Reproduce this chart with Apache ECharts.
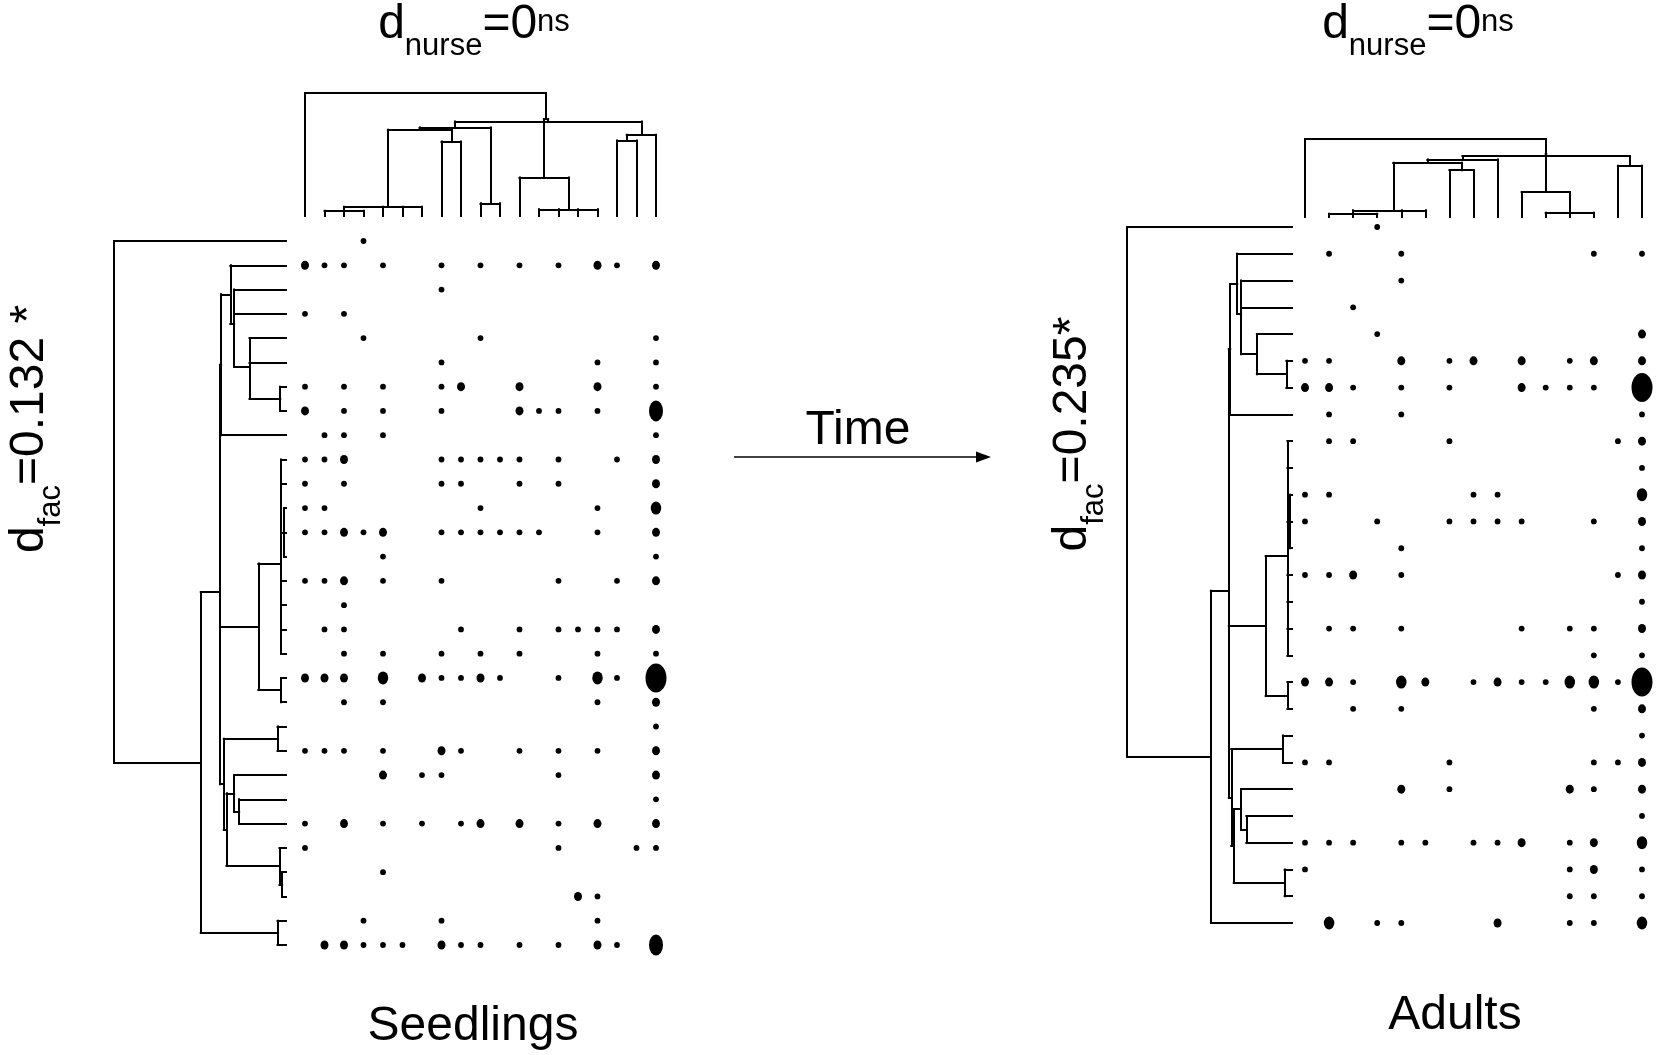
<!DOCTYPE html>
<html><head><meta charset="utf-8">
<script src="https://cdn.jsdelivr.net/npm/echarts@6/dist/echarts.min.js"></script>
<style>html,body{margin:0;padding:0;background:#fff}#c{width:1660px;height:1055px}</style>
</head><body><div id="c"></div>
<script>
// ---------------- DATA ----------------
// Dot matrices: one string per row, one character per column ('.' = absent, 1..5 = abundance class)
const seedlingRows = [
  "...1...............",
  "211.1..1.1.1.1.21.2",
  ".......1...........",
  "1.1................",
  "...1.....1........1",
  ".......1.......1..1",
  "1.1.1..12..2...2..1",
  "2.1.1..1...211.1..4",
  ".11.1.............1",
  "112....11111.1..1.2",
  "1.1....11..1.1....2",
  "11.......1.....1..3",
  "11212..111111..1..2",
  "....1.............1",
  "112.1..1.....1..1.2",
  "..1................",
  ".11.....1..1.1111.2",
  "..1.1..1.1.1...1..1",
  "222.3.21121..1.31.5",
  "..1.1..........1..2",
  "..................1",
  "111.1..21..1.1.1..2",
  "....2.11.....1....2",
  "..................1",
  "1.2.1.1.12.2.1.2..2",
  "1............1...11",
  "....1..............",
  "..............21...",
  "...1...1.......1...",
  ".22111.211.1.1.21.4"
];
const adultRows = [
  "...1...........",
  ".1..1.......1.1",
  "....1..........",
  "..1............",
  "...1..........2",
  "11..2.12.2.12.2",
  "221.1.1..2111.5",
  ".1..1.........1",
  ".11...1......12",
  "..............1",
  "11.....11.....3",
  "1..1..1111..1.2",
  "....1.........1",
  "112.1........12",
  "..............1",
  ".11.1....1.11.2",
  "............1.1",
  "221.32.12113315",
  "..1.1.......1.2",
  "..............1",
  "11....1.....112",
  "....2.1....21.2",
  "..............1",
  "111.11.112.12.3",
  "1..........12.1",
  "...........11.1",
  ".3.11...2..11.3"
];
// Dendrograms: [children, merge height]; 'rK' = leaf K, 'nK' = K-th merge
const seedlingColTree = [
  [['r1','r2','r3'], 16], [['n0','r4','r5','r6'], 28], [['r7','r8'], 223],
  [['n1','n2'], 258], [['r9','r10'], 38], [['n3','n4'], 265],
  [['r12','r13','r14','r15'], 20], [['r11','n6'], 115], [['r16','r17'], 226],
  [['n8','r18'], 243], [['n5','n9'], 283], [['n7','n10'], 290], [['r0','n11'], 368]
];
const adultColTree = [
  [['r1','r2','r3'], 10], [['n0','r4','r5'], 20], [['r6','r7'], 140],
  [['n1','n2'], 162], [['n3','r8'], 172], [['r13','r14'], 153],
  [['n4','n5'], 182], [['r10','r11','r12'], 13], [['r9','n7'], 75],
  [['n8','n6'], 190], [['r0','n9'], 233]
];
const seedlingRowTree = [
  [['r6','r7'], 15], [['r4','r5','n0'], 95], [['r2','r3','n1'], 135],
  [['r1','n2'], 145], [['n3','r8'], 169], [['r11','r12','r13'], 5],
  [['r9','r10','n5','r14','r15','r16','r17'], 13], [['r18','r19'], 13],
  [['n6','n7'], 72], [['r20','r21'], 22], [['r23','r24'], 122],
  [['r22','n10'], 135], [['r26','r27'], 10], [['r25','n12'], 17],
  [['n11','n13'], 155], [['n9','n14'], 162], [['n4','n8','n15'], 172],
  [['r28','r29'], 22], [['n16','n17'], 222], [['r0','n18'], 448]
];
const adultRowTree = [
  [['r5','r6'], 16], [['r4','n0'], 100], [['r2','r3','n1'], 145],
  [['r1','n2'], 156], [['n3','r7'], 176], [['r10','r11','r12'], 5],
  [['r8','r9','n5','r13','r14','r15','r16'], 13], [['r17','r18'], 13],
  [['n6','n7'], 75], [['r19','r20'], 26], [['r22','r23'], 130],
  [['r21','n10'], 145], [['r24','r25'], 21], [['n11','n12'], 166],
  [['n9','n13'], 173], [['n4','n8','n14'], 180], [['n15','r26'], 231],
  [['r0','n16'], 470]
];
const labels = {
  nurseLeft: '{b|d}{s|nurse}{b|=0}{p|ns}',
  nurseRight: '{b|d}{s|nurse}{b|=0}{p|ns}',
  facLeft: '{b|d}{s|fac}{b|=0.132 *}',
  facRight: '{b|d}{s|fac}{b|=0.235*}',
  time: '{b|Time}', seedlings: '{b|Seedlings}', adults: '{b|Adults}'
};

// ---------------- BUILD ----------------
const dotSize = [[0,0],[5.8,5.8],[8,9],[10.5,13],[14,21],[21,29]];
function matrixData(rows) {
  const out = [];
  rows.forEach((s, r) => { for (let c = 0; c < s.length; c++) if (s[c] !== '.') out.push([c, r, +s[c]]); });
  return out;
}
function treeMax(t) { return t[t.length - 1][1]; }
function dendroSegments(tree, rotate) {
  const pos = {}, ht = {}, segs = [];
  const get = id => id[0] === 'r' ? [+id.slice(1), 0] : [pos[id], ht[id]];
  const pt = (p, h) => rotate ? [h, p] : [p, h];
  tree.forEach(([kids, h], k) => {
    const ps = kids.map(get), xs = ps.map(q => q[0]);
    ps.forEach(([p, ch]) => segs.push({ coords: [pt(p, ch), pt(p, h)] }));
    segs.push({ coords: [pt(Math.min(...xs), h), pt(Math.max(...xs), h)] });
    pos['n' + k] = xs.reduce((a, b) => a + b, 0) / xs.length; ht['n' + k] = h;
  });
  return segs;
}
const nColL = seedlingRows[0].length, nRowL = seedlingRows.length;
const nColR = adultRows[0].length, nRowR = adultRows.length;

const grids = [
  { left: 305, top: 93, width: 351, height: 123 },   // 0 seedling column tree
  { left: 114, top: 241, width: 172, height: 704 },  // 1 seedling row tree
  { left: 305, top: 241, width: 351, height: 704 },  // 2 seedling matrix
  { left: 1305, top: 139, width: 337, height: 78 },  // 3 adult column tree
  { left: 1127, top: 227, width: 165, height: 696 }, // 4 adult row tree
  { left: 1305, top: 227, width: 337, height: 696 }  // 5 adult matrix
];
const ax = (g, min, max, inv) => ({ type: 'value', gridIndex: g, min, max, inverse: !!inv, show: false });
const xAxes = [
  ax(0, 0, nColL - 1), ax(1, 0, treeMax(seedlingRowTree), true), ax(2, 0, nColL - 1),
  ax(3, 0, nColR - 1), ax(4, 0, treeMax(adultRowTree), true), ax(5, 0, nColR - 1)
];
const yAxes = [
  ax(0, 0, treeMax(seedlingColTree)), ax(1, 0, nRowL - 1, true), ax(2, 0, nRowL - 1, true),
  ax(3, 0, treeMax(adultColTree)), ax(4, 0, nRowR - 1, true), ax(5, 0, nRowR - 1, true)
];
const lineStyle = { color: '#000', width: 2, opacity: 1, cap: 'square' };
const treeSeries = (i, tree, rot) => ({
  type: 'lines', coordinateSystem: 'cartesian2d', xAxisIndex: i, yAxisIndex: i,
  data: dendroSegments(tree, rot), lineStyle, silent: true, animation: false, clip: false
});
const dotSeries = (i, rows) => ({
  type: 'scatter', xAxisIndex: i, yAxisIndex: i, data: matrixData(rows),
  symbol: 'circle', symbolSize: v => dotSize[v[2]], itemStyle: { color: '#000', opacity: 1 },
  silent: true, animation: false, clip: false
});

const FONT = '"Liberation Sans", Arial, Helvetica, sans-serif';
const rich = {
  b: { fontSize: 48, fontFamily: FONT, lineHeight: 60, color: '#000' },
  s: { fontSize: 31, fontFamily: FONT, lineHeight: 60, padding: [42, 0, 0, 0], color: '#000' },
  p: { fontSize: 31, fontFamily: FONT, lineHeight: 60, padding: [0, 0, 6, 0], color: '#000' }
};
const txt = (text, x, y, rot) => ({
  type: 'text', x, y, rotation: rot || 0, silent: true,
  style: { text, rich, fill: '#000', font: '48px ' + FONT,
    align: 'center', verticalAlign: 'middle', textAlign: 'center', textVerticalAlign: 'middle' }
});

const chart = echarts.init(document.getElementById('c'), null, { renderer: 'canvas' });
chart.setOption({
  backgroundColor: '#fff',
  animation: false,
  grid: grids,
  xAxis: xAxes,
  yAxis: yAxes,
  series: [
    treeSeries(0, seedlingColTree, false),
    treeSeries(1, seedlingRowTree, true),
    dotSeries(2, seedlingRows),
    treeSeries(3, adultColTree, false),
    treeSeries(4, adultRowTree, true),
    dotSeries(5, adultRows)
  ],
  graphic: [
    txt(labels.nurseLeft, 474, 25),
    txt(labels.nurseRight, 1418, 25),
    txt(labels.facLeft, 30, 429, Math.PI / 2),
    txt(labels.facRight, 1073, 434, Math.PI / 2),
    txt(labels.time, 858, 431),
    txt(labels.seedlings, 473, 1027),
    txt(labels.adults, 1455, 1016),
    { type: 'line', silent: true, shape: { x1: 734, y1: 457, x2: 978, y2: 457 }, style: { stroke: '#000', lineWidth: 1.6 } },
    { type: 'polygon', silent: true, shape: { points: [[991, 457], [976, 451.5], [976, 462.5]] }, style: { fill: '#000' } }
  ]
});
</script></body></html>
